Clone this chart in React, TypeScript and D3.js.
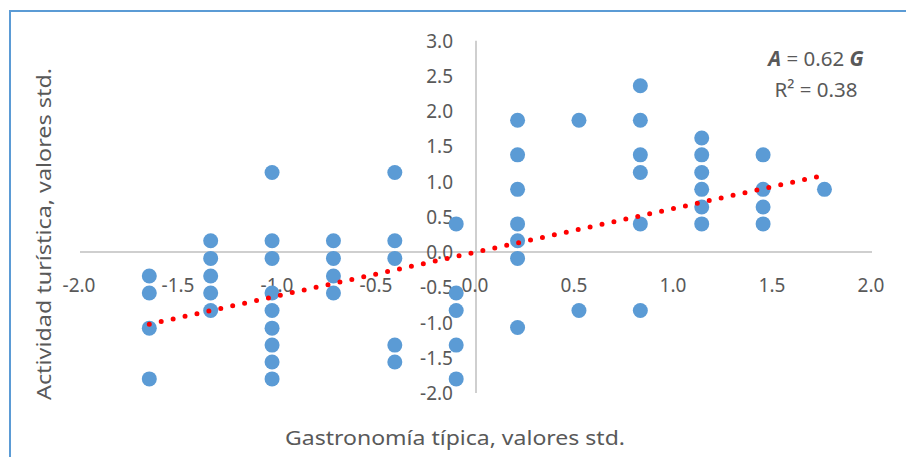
import React from "react";
import * as d3 from "d3";

// Gastronomía típica (x) and Actividad turística (y), standardized values
const gastronomia = [
  -1.65, -1.65, -1.65, -1.65,
  -1.34, -1.34, -1.34, -1.34, -1.34,
  -1.03, -1.03, -1.03, -1.03, -1.03, -1.03, -1.03, -1.03, -1.03,
  -0.72, -0.72, -0.72, -0.72,
  -0.41, -0.41, -0.41, -0.41, -0.41,
  -0.1, -0.1, -0.1, -0.1, -0.1,
  0.21, 0.21, 0.21, 0.21, 0.21, 0.21, 0.21,
  0.52, 0.52,
  0.83, 0.83, 0.83, 0.83, 0.83, 0.83,
  1.14, 1.14, 1.14, 1.14, 1.14, 1.14,
  1.45, 1.45, 1.45, 1.45,
  1.76,
];
const actividad = [
  -0.34, -0.58, -1.08, -1.8,
  0.16, -0.09, -0.34, -0.58, -0.83,
  1.13, 0.16, -0.09, -0.58, -0.83, -1.08, -1.32, -1.56, -1.8,
  0.16, -0.09, -0.34, -0.58,
  1.13, 0.16, -0.09, -1.32, -1.56,
  0.4, -0.58, -0.83, -1.32, -1.8,
  1.87, 1.38, 0.89, 0.4, 0.16, -0.09, -1.07,
  1.87, -0.83,
  2.36, 1.87, 1.38, 1.13, 0.4, -0.83,
  1.62, 1.38, 1.13, 0.89, 0.64, 0.4,
  1.38, 0.89, 0.64, 0.4,
  0.89,
];
const trendSlope = 0.62;
const trendIntercept = 0;
const rSquared = 0.38;
const xTickValues = [-2, -1.5, -1, -0.5, 0, 0.5, 1, 1.5, 2];
const yTickValues = [3, 2.5, 2, 1.5, 1, 0.5, 0, -0.5, -1, -1.5, -2];
const xTitle = "Gastronomía típica, valores std.";
const yTitle = "Actividad turística, valores std.";

const FONT = "'Noto Sans', 'Open Sans', sans-serif";
const TEXT = "#595959";

export default function App() {
  const x = d3.scaleLinear().domain([-2, 2]).range([80, 872]);
  const y = d3.scaleLinear().domain([-2, 3]).range([393, 40.7]);
  const f1 = d3.format(".1f");
  const fmt = (v: number) => f1(v).replace("\u2212", "-");

  const xMin = d3.min(gastronomia) as number;
  const xMax = d3.max(gastronomia) as number;
  const trend = d3
    .line<number>()
    .x((d) => x(d))
    .y((d) => y(trendSlope * d + trendIntercept));

  return (
    <svg
      width={906}
      height={457}
      style={{ position: "absolute", left: 0, top: 0, background: "#fff" }}
    >
      <rect x={0} y={0} width={906} height={457} fill="#fff" />
      <rect
        x={10}
        y={11}
        width={960}
        height={500}
        fill="#fff"
        stroke="#5B9BD5"
        strokeWidth={2}
      />
      {/* axes */}
      <line x1={x(-2)} x2={x(2)} y1={y(0)} y2={y(0)} stroke="#bfbfbf" strokeWidth={1.5} />
      <line x1={x(0)} x2={x(0)} y1={y(3)} y2={y(-2)} stroke="#bfbfbf" strokeWidth={1.5} />

      {/* tick labels */}
      {yTickValues.map((t) => (
        <text
          key={"y" + t}
          x={453}
          y={y(t)}
          textAnchor="end"
          dominantBaseline="central"
          fontFamily={FONT}
          fontSize={19}
          fill={TEXT}
        >
          {fmt(t)}
        </text>
      ))}
      {xTickValues.map((t) => (
        <text
          key={"x" + t}
          x={x(t) - 1}
          y={y(0) + 33}
          textAnchor="middle"
          dominantBaseline="central"
          fontFamily={FONT}
          fontSize={19}
          fill={TEXT}
        >
          {fmt(t)}
        </text>
      ))}

      {/* points */}
      {gastronomia.map((g, i) => (
        <circle key={i} cx={x(g)} cy={y(actividad[i])} r={7.5} fill="#5B9BD5" />
      ))}

      {/* trend line */}
      <path
        d={trend([xMin, xMax]) || ""}
        fill="none"
        stroke="#ff0000"
        strokeWidth={5}
        strokeLinecap="round"
        strokeDasharray="0 12.2"
      />

      {/* equation */}
      <text x={816} y={58} textAnchor="middle" dominantBaseline="central" fontFamily={FONT} fontSize={20.5} fill={TEXT}>
        <tspan fontWeight="bold" fontStyle="italic">A</tspan>
        <tspan>{" = " + trendSlope.toFixed(2) + " "}</tspan>
        <tspan fontWeight="bold" fontStyle="italic">G</tspan>
      </text>
      <text x={816} y={89} textAnchor="middle" dominantBaseline="central" fontFamily={FONT} fontSize={20.5} fill={TEXT}>
        {"R² = " + rSquared.toFixed(2)}
      </text>

      {/* axis titles */}
      <text
        x={455}
        y={437}
        textAnchor="middle"
        dominantBaseline="central"
        fontFamily={FONT}
        fontSize={20}
        fill={TEXT}
        textLength={340}
        lengthAdjust="spacingAndGlyphs"
      >
        {xTitle}
      </text>
      <text
        transform="translate(43,234) rotate(-90)"
        textAnchor="middle"
        dominantBaseline="central"
        fontFamily={FONT}
        fontSize={20}
        fill={TEXT}
        textLength={332}
        lengthAdjust="spacingAndGlyphs"
      >
        {yTitle}
      </text>
    </svg>
  );
}
